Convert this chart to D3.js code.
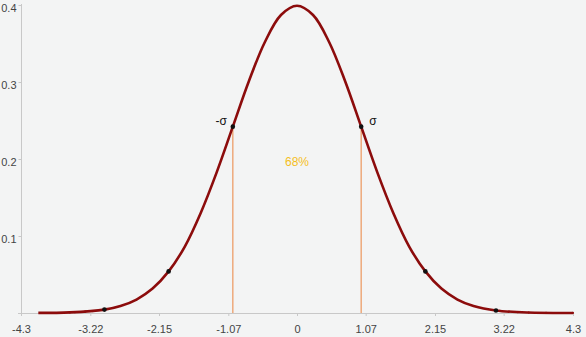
<!DOCTYPE html>
<html>
<head>
<meta charset="utf-8">
<script src="https://cdn.jsdelivr.net/npm/d3@7"></script>
<style>
  body { margin: 0; background: #f3f4f4; }
  svg { display: block; }
</style>
</head>
<body>
<div id="grafico"></div>
<script>
// valores
var curvaX = [-4.03, -3.54, -3.0, -2.75, -2.5, -2.25, -2.0, -1.75, -1.5, -1.25, -1.0, -0.75, -0.5, -0.25, 0,
              0.25, 0.5, 0.75, 1.0, 1.25, 1.5, 1.75, 2.0, 2.25, 2.5, 2.75, 3.1, 3.6, 4.3];
var curvaY = [0.0001, 0.0008, 0.0044, 0.0091, 0.0175, 0.0317, 0.054, 0.086, 0.130, 0.183, 0.242, 0.301, 0.352, 0.387, 0.399,
              0.387, 0.352, 0.301, 0.242, 0.183, 0.130, 0.086, 0.054, 0.0317, 0.0175, 0.0091, 0.0033, 0.0006, 0.00004];
var puntosX = [-3.0, -2.0, -1.0, 1.0, 2.0, 3.1];
var puntosY = [0.0044, 0.054, 0.242, 0.242, 0.054, 0.0033];
var marcasX = [-3.54, -3.46, -3.38, -3.30, -3.18, 3.16, 3.30, 3.44, 3.61, 3.88, 4.3];
var marcasY = [0.0008, 0.0010, 0.0013, 0.0017, 0.0025, 0.0027, 0.0017, 0.0011, 0.0006, 0.0002, 0.00004];
var sigmaX = [-1.0, 1.0];
var sigmaY = [0.242, 0.242];
var sigmaTxt = ["-\u03C3", "\u03C3"];
var ticksX = [-4.3, -3.22, -2.15, -1.07, 0, 1.07, 2.15, 3.22, 4.3];
var ticksY = [0.1, 0.2, 0.3, 0.4];

var ancho = 586, alto = 337;

var svg = d3.select("#grafico")
  .append("svg")
  .attr("width", ancho)
  .attr("height", alto)
  .style("font-family", "Liberation Sans, Arial, sans-serif");

svg.append("rect")
  .attr("width", ancho).attr("height", alto)
  .attr("fill", "#f3f4f4");

var x = d3.scaleLinear().domain([-4.3, 4.3]).range([21, 573]);
var y = d3.scaleLinear().domain([0, 0.4]).range([313, 5]);

// eje x
var ejeX = svg.append("g")
  .attr("transform", "translate(0,313)")
  .call(d3.axisBottom(x).tickValues(ticksX).tickSize(3).tickSizeOuter(0)
    .tickFormat(function(d){ return String(d); }));
ejeX.select(".domain").remove();
ejeX.selectAll("line").attr("stroke", "#c8c8c8");
ejeX.selectAll("text").attr("fill", "#444").attr("font-size", "11px")
  .attr("y", 12).attr("dy", "0.71em")
  .attr("font-family", "Liberation Sans, Arial, sans-serif");
svg.append("line")
  .attr("x1", 18).attr("x2", 574)
  .attr("y1", 313.5).attr("y2", 313.5)
  .attr("stroke", "#c8c8c8");

// eje y
var ejeY = svg.append("g")
  .attr("transform", "translate(21.5,0)")
  .call(d3.axisLeft(y).tickValues(ticksY).tickSize(3).tickSizeOuter(0)
    .tickFormat(d3.format(".1f")));
ejeY.select(".domain").remove();
ejeY.selectAll("line").attr("stroke", "#c8c8c8");
ejeY.selectAll("text").attr("fill", "#444").attr("font-size", "11px")
  .attr("x", -5).attr("dy", "0.6em")
  .attr("font-family", "Liberation Sans, Arial, sans-serif");
svg.append("line")
  .attr("x1", 21.5).attr("x2", 21.5)
  .attr("y1", 4).attr("y2", 316)
  .attr("stroke", "#c8c8c8");

// lineas de sigma
svg.append("g")
  .selectAll("line")
  .data(sigmaX)
  .enter()
  .append("line")
  .attr("x1", function(d){ return x(d); })
  .attr("x2", function(d){ return x(d); })
  .attr("y1", function(d, i){ return y(sigmaY[i]); })
  .attr("y2", y(0))
  .attr("stroke", "#eda472")
  .attr("stroke-width", 1.4);

// curva
var datos = curvaX.map(function(d, i){ return [d, curvaY[i]]; });
svg.append("path")
  .datum(datos)
  .attr("d", d3.line()
    .x(function(d){ return x(d[0]); })
    .y(function(d){ return y(d[1]); })
    .curve(d3.curveCatmullRom))
  .attr("fill", "none")
  .attr("stroke", "#8c0c0c")
  .attr("stroke-width", 2.6);

// marcas pequenas
svg.append("g")
  .selectAll("circle")
  .data(marcasX)
  .enter()
  .append("circle")
  .attr("cx", function(d){ return x(d); })
  .attr("cy", function(d, i){ return y(marcasY[i]); })
  .attr("r", 1.1)
  .attr("fill", "#8c0c0c");

// puntos
svg.append("g")
  .selectAll("circle")
  .data(puntosX)
  .enter()
  .append("circle")
  .attr("cx", function(d){ return x(d); })
  .attr("cy", function(d, i){ return y(puntosY[i]); })
  .attr("r", 2.3)
  .attr("fill", "#111");

// etiquetas sigma
svg.append("g")
  .selectAll("text")
  .data(sigmaTxt)
  .enter()
  .append("text")
  .text(function(d){ return d; })
  .attr("x", function(d, i){ return x(sigmaX[i]) + (i === 0 ? -6 : 8); })
  .attr("y", y(sigmaY[0]) - 2)
  .attr("text-anchor", function(d, i){ return i === 0 ? "end" : "start"; })
  .attr("font-size", "12px")
  .attr("fill", "#111");

svg.append("text")
  .text("68%")
  .attr("x", x(0))
  .attr("y", 166)
  .attr("text-anchor", "middle")
  .attr("font-size", "12px")
  .attr("fill", "#f5bf1e");
</script>
</body>
</html>
